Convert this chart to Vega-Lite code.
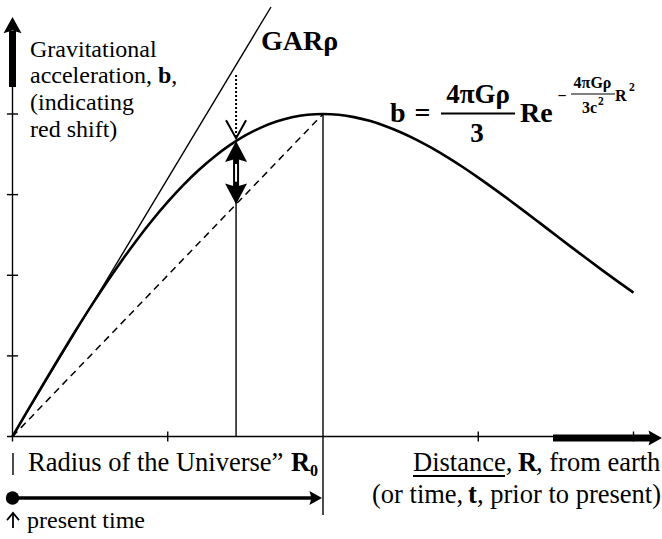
{
  "$schema": "https://vega.github.io/schema/vega-lite/v6.json",
  "width": 662,
  "height": 539,
  "autosize": {"type": "none"},
  "padding": 0,
  "background": "white",
  "config": {"view": {"stroke": null}, "text": {"font": "Liberation Serif", "color": "black"}},
  "encoding": {
    "x": {"field": "x", "type": "quantitative", "scale": {"domain": [-0.040258, 2.091787], "nice": false, "zero": false}, "axis": null},
    "y": {"field": "y", "type": "quantitative", "scale": {"domain": [-0.317829, 1.353488], "nice": false, "zero": false}, "axis": null}
  },
  "layer": [
    {
      "description": "thin axis lines, ticks, guide verticals and the tangent GAR line",
      "data": {"values": [
        {"part": "y axis", "x": 0, "y": -0.0155, "x2": 0, "y2": 1.0837},
        {"part": "x axis", "x": -0.0177, "y": 0, "x2": 1.7407, "y2": 0},
        {"part": "R0 drop", "x": 1, "y": 1, "x2": 1, "y2": -0.2434},
        {"part": "R drop", "x": 0.72, "y": 0, "x2": 0.72, "y2": 0.916},
        {"part": "y tick", "x": -0.018, "y": 0.25, "x2": 0.018, "y2": 0.25},
        {"part": "y tick", "x": -0.018, "y": 0.5, "x2": 0.018, "y2": 0.5},
        {"part": "y tick", "x": -0.018, "y": 0.75, "x2": 0.018, "y2": 0.75},
        {"part": "y tick", "x": -0.018, "y": 1.0, "x2": 0.018, "y2": 1.0},
        {"part": "x tick", "x": 0.5, "y": -0.0155, "x2": 0.5, "y2": 0.0155},
        {"part": "x tick", "x": 1.5, "y": -0.0155, "x2": 1.5, "y2": 0.0155},
        {"part": "x tick", "x": 2.0, "y": -0.0155, "x2": 2.0, "y2": 0.0155},
        {"part": "GAR", "x": 0, "y": 0, "x2": 0.8325, "y2": 1.3318},
        {"part": "origin bar", "x": 0.0016, "y": -0.0512, "x2": 0.0016, "y2": -0.1194}
      ]},
      "mark": {"type": "rule", "color": "black", "strokeWidth": 1.4},
      "encoding": {"x2": {"field": "x2"}, "y2": {"field": "y2"}}
    },
    {
      "description": "dashed chord from origin to the peak",
      "data": {"values": [{"x": 0, "y": 0, "x2": 1, "y2": 1}]},
      "mark": {"type": "rule", "color": "black", "strokeWidth": 1.5, "strokeDash": [7, 5]},
      "encoding": {"x2": {"field": "x2"}, "y2": {"field": "y2"}}
    },
    {
      "description": "dotted pointer from GAR line down to the curve",
      "data": {"values": [{"x": 0.72, "y": 1.1209, "x2": 0.72, "y2": 0.93}]},
      "mark": {"type": "rule", "color": "black", "strokeWidth": 2, "strokeDash": [2, 2]},
      "encoding": {"x2": {"field": "x2"}, "y2": {"field": "y2"}}
    },
    {
      "description": "b = R exp((1 - R^2)/2), normalised so the peak sits at R0 = 1",
      "data": {"values": [
        {"x": 0, "y": 0}, {"x": 0.05, "y": 0.08233}, {"x": 0.1, "y": 0.16405}, {"x": 0.15, "y": 0.24454},
        {"x": 0.2, "y": 0.32321}, {"x": 0.25, "y": 0.3995}, {"x": 0.3, "y": 0.47285}, {"x": 0.35, "y": 0.54277},
        {"x": 0.4, "y": 0.60878}, {"x": 0.45, "y": 0.67048}, {"x": 0.5, "y": 0.7275}, {"x": 0.55, "y": 0.77951},
        {"x": 0.6, "y": 0.82628}, {"x": 0.65, "y": 0.8676}, {"x": 0.7, "y": 0.90332}, {"x": 0.75, "y": 0.93339},
        {"x": 0.8, "y": 0.95777}, {"x": 0.85, "y": 0.97651}, {"x": 0.9, "y": 0.98969}, {"x": 0.95, "y": 0.99746},
        {"x": 1.0, "y": 1.0}, {"x": 1.05, "y": 0.99754}, {"x": 1.1, "y": 0.99035}, {"x": 1.15, "y": 0.97874},
        {"x": 1.2, "y": 0.96302}, {"x": 1.25, "y": 0.94355}, {"x": 1.3, "y": 0.92068}, {"x": 1.35, "y": 0.89482},
        {"x": 1.4, "y": 0.86629}, {"x": 1.45, "y": 0.83555}, {"x": 1.5, "y": 0.80289}, {"x": 1.55, "y": 0.76874},
        {"x": 1.6, "y": 0.73345}, {"x": 1.65, "y": 0.69736}, {"x": 1.7, "y": 0.66076}, {"x": 1.75, "y": 0.62398},
        {"x": 1.8, "y": 0.5873}, {"x": 1.85, "y": 0.55099}, {"x": 1.9, "y": 0.51523}, {"x": 1.95, "y": 0.48028},
        {"x": 2.0, "y": 0.44626}
      ]},
      "mark": {"type": "line", "color": "black", "strokeWidth": 2.6, "interpolate": "monotone"}
    },
    {
      "description": "heavy shafts of the axis arrows",
      "data": {"values": [
        {"x": 0, "y": 1.0837, "x2": 0, "y2": 1.2574},
        {"x": 1.7407, "y": -0.005, "x2": 2.0596, "y2": -0.005}
      ]},
      "mark": {"type": "rule", "color": "black", "strokeWidth": 7},
      "encoding": {"x2": {"field": "x2"}, "y2": {"field": "y2"}}
    },
    {
      "description": "present-time arrow shaft",
      "data": {"values": [{"x": 0, "y": -0.1907, "x2": 0.975, "y2": -0.1907}]},
      "mark": {"type": "rule", "color": "black", "strokeWidth": 3.5},
      "encoding": {"x2": {"field": "x2"}, "y2": {"field": "y2"}}
    },
    {
      "description": "small upward arrow stem beside 'present time'",
      "data": {"values": [{"x": 0.0016, "y": -0.2385, "x2": 0.0016, "y2": -0.2837}]},
      "mark": {"type": "rule", "color": "black", "strokeWidth": 1.8},
      "encoding": {"x2": {"field": "x2"}, "y2": {"field": "y2"}}
    },
    {
      "description": "double arrow shaft, outer",
      "data": {"values": [{"x": 0.72, "y": 0.75, "x2": 0.72, "y2": 0.89}]},
      "mark": {"type": "rule", "color": "black", "strokeWidth": 6},
      "encoding": {"x2": {"field": "x2"}, "y2": {"field": "y2"}}
    },
    {
      "description": "double arrow shaft, hollow core",
      "data": {"values": [{"x": 0.72, "y": 0.79, "x2": 0.72, "y2": 0.845}]},
      "mark": {"type": "rule", "color": "white", "strokeWidth": 2},
      "encoding": {"x2": {"field": "x2"}, "y2": {"field": "y2"}}
    },
    {
      "description": "fraction bar and underline",
      "data": {"values": [
        {"x": 1.38, "y": 1.0016, "x2": 1.6184, "y2": 1.0016},
        {"x": 1.2899, "y": -0.1225, "x2": 1.5862, "y2": -0.1225}
      ]},
      "mark": {"type": "rule", "color": "black", "strokeWidth": 1.8},
      "encoding": {"x2": {"field": "x2"}, "y2": {"field": "y2"}}
    },
    {
      "description": "exponent fraction bar",
      "data": {"values": [{"x": 1.7987, "y": 1.062, "x2": 1.9404, "y2": 1.062}]},
      "mark": {"type": "rule", "color": "black", "strokeWidth": 1.1},
      "encoding": {"x2": {"field": "x2"}, "y2": {"field": "y2"}}
    },
    {
      "description": "y axis arrowhead",
      "data": {"values": [{"x": 0, "y": 1.3008}]},
      "mark": {"type": "point", "shape": "M0,0L1,1.8L0,1.5L-1,1.8Z", "size": 324, "filled": true, "color": "black", "opacity": 1, "strokeWidth": 0}
    },
    {
      "description": "x axis arrowhead",
      "data": {"values": [{"x": 2.0918, "y": -0.005}]},
      "mark": {"type": "point", "shape": "M0,0L1,1.8L0,1.5L-1,1.8Z", "size": 225, "angle": 90, "filled": true, "color": "black", "opacity": 1, "strokeWidth": 0}
    },
    {
      "description": "present-time arrowhead",
      "data": {"values": [{"x": 0.9968, "y": -0.1907}]},
      "mark": {"type": "point", "shape": "M0,0L1,1.8L0,1.5L-1,1.8Z", "size": 196, "angle": 90, "filled": true, "color": "black", "opacity": 1, "strokeWidth": 0}
    },
    {
      "description": "double arrow, upper head",
      "data": {"values": [{"x": 0.72, "y": 0.916}]},
      "mark": {"type": "point", "shape": "M0,0L1,1.9L0,1.6L-1,1.9Z", "size": 484, "filled": true, "color": "black", "opacity": 1, "strokeWidth": 0}
    },
    {
      "description": "double arrow, lower head",
      "data": {"values": [{"x": 0.72, "y": 0.72}]},
      "mark": {"type": "point", "shape": "M0,0L1,1.9L0,1.6L-1,1.9Z", "size": 484, "angle": 180, "filled": true, "color": "black", "opacity": 1, "strokeWidth": 0}
    },
    {
      "description": "open head of the dotted pointer",
      "data": {"values": [{"x": 0.72, "y": 0.925}]},
      "mark": {"type": "point", "shape": "M-1,-1.8L0,0L1,-1.8", "size": 400, "filled": false, "color": "black", "opacity": 1, "strokeWidth": 2}
    },
    {
      "description": "open head of the small upward arrow",
      "data": {"values": [{"x": 0.0016, "y": -0.2372}]},
      "mark": {"type": "point", "shape": "M-1,1.2L0,0L1,1.2", "size": 144, "filled": false, "color": "black", "opacity": 1, "strokeWidth": 1.8}
    },
    {
      "description": "present-time dot",
      "data": {"values": [{"x": 0, "y": -0.1907}]},
      "mark": {"type": "point", "shape": "circle", "size": 180, "filled": true, "color": "black", "opacity": 1, "strokeWidth": 0}
    },
    {
      "data": {"values": [
        {"x": 0.0564, "y": 1.1767, "t": "Gravitational"},
        {"x": 0.0564, "y": 1.0946, "t": "acceleration,"},
        {"x": 0.5111, "y": 1.0946, "t": ","},
        {"x": 0.0564, "y": 1.0124, "t": "(indicating"},
        {"x": 0.0564, "y": 0.9302, "t": "red shift)"},
        {"x": 0.0467, "y": -0.2837, "t": "present time"}
      ]},
      "mark": {"type": "text", "align": "left", "baseline": "alphabetic", "fontSize": 24},
      "encoding": {"text": {"field": "t"}}
    },
    {
      "data": {"values": [{"x": 0.4683, "y": 1.0946, "t": "b"}]},
      "mark": {"type": "text", "align": "left", "baseline": "alphabetic", "fontSize": 24, "fontWeight": "bold"},
      "encoding": {"text": {"field": "t"}}
    },
    {
      "data": {"values": [
        {"x": 0.0499, "y": -0.1085, "t": "Radius of the Universe”"},
        {"x": 1.2899, "y": -0.1085, "t": "Distance,"},
        {"x": 1.686, "y": -0.1085, "t": ", from earth"},
        {"x": 1.1578, "y": -0.2062, "t": "(or time,"},
        {"x": 1.496, "y": -0.2062, "t": ", prior to present)"}
      ]},
      "mark": {"type": "text", "align": "left", "baseline": "alphabetic", "fontSize": 26.5},
      "encoding": {"text": {"field": "t"}}
    },
    {
      "data": {"values": [
        {"x": 0.8969, "y": -0.1085, "t": "R"},
        {"x": 1.628, "y": -0.1085, "t": "R"},
        {"x": 1.467, "y": -0.2062, "t": "t"}
      ]},
      "mark": {"type": "text", "align": "left", "baseline": "alphabetic", "fontSize": 26.5, "fontWeight": "bold"},
      "encoding": {"text": {"field": "t"}}
    },
    {
      "data": {"values": [{"x": 0.9581, "y": -0.1225, "t": "0"}]},
      "mark": {"type": "text", "align": "left", "baseline": "alphabetic", "fontSize": 16, "fontWeight": "bold"},
      "encoding": {"text": {"field": "t"}}
    },
    {
      "data": {"values": [
        {"x": 0.8003, "y": 1.1984, "t": "GARρ"},
        {"x": 1.2158, "y": 0.9752, "t": "b"},
        {"x": 1.6345, "y": 0.9752, "t": "Re"}
      ]},
      "mark": {"type": "text", "align": "left", "baseline": "alphabetic", "fontSize": 28, "fontWeight": "bold"},
      "encoding": {"text": {"field": "t"}}
    },
    {
      "data": {"values": [{"x": 1.3205, "y": 0.9752, "t": "="}]},
      "mark": {"type": "text", "align": "center", "baseline": "alphabetic", "fontSize": 28, "fontWeight": "bold"},
      "encoding": {"text": {"field": "t"}}
    },
    {
      "data": {"values": [
        {"x": 1.4992, "y": 1.0341, "t": "4πGρ"},
        {"x": 1.496, "y": 0.9132, "t": "3"}
      ]},
      "mark": {"type": "text", "align": "center", "baseline": "alphabetic", "fontSize": 27, "fontWeight": "bold"},
      "encoding": {"text": {"field": "t"}}
    },
    {
      "data": {"values": [
        {"x": 1.7697, "y": 1.0388, "t": "−"},
        {"x": 1.868, "y": 1.0806, "t": "4πGρ"}
      ]},
      "mark": {"type": "text", "align": "center", "baseline": "alphabetic", "fontSize": 16, "fontWeight": "bold"},
      "encoding": {"text": {"field": "t"}}
    },
    {
      "data": {"values": [
        {"x": 1.8342, "y": 1.0031, "t": "3c"},
        {"x": 1.9404, "y": 1.0388, "t": "R"}
      ]},
      "mark": {"type": "text", "align": "left", "baseline": "alphabetic", "fontSize": 16, "fontWeight": "bold"},
      "encoding": {"text": {"field": "t"}}
    },
    {
      "data": {"values": [
        {"x": 1.8857, "y": 1.0264, "t": "2"},
        {"x": 1.9855, "y": 1.0698, "t": "2"}
      ]},
      "mark": {"type": "text", "align": "left", "baseline": "alphabetic", "fontSize": 11.5, "fontWeight": "bold"},
      "encoding": {"text": {"field": "t"}}
    }
  ]
}
